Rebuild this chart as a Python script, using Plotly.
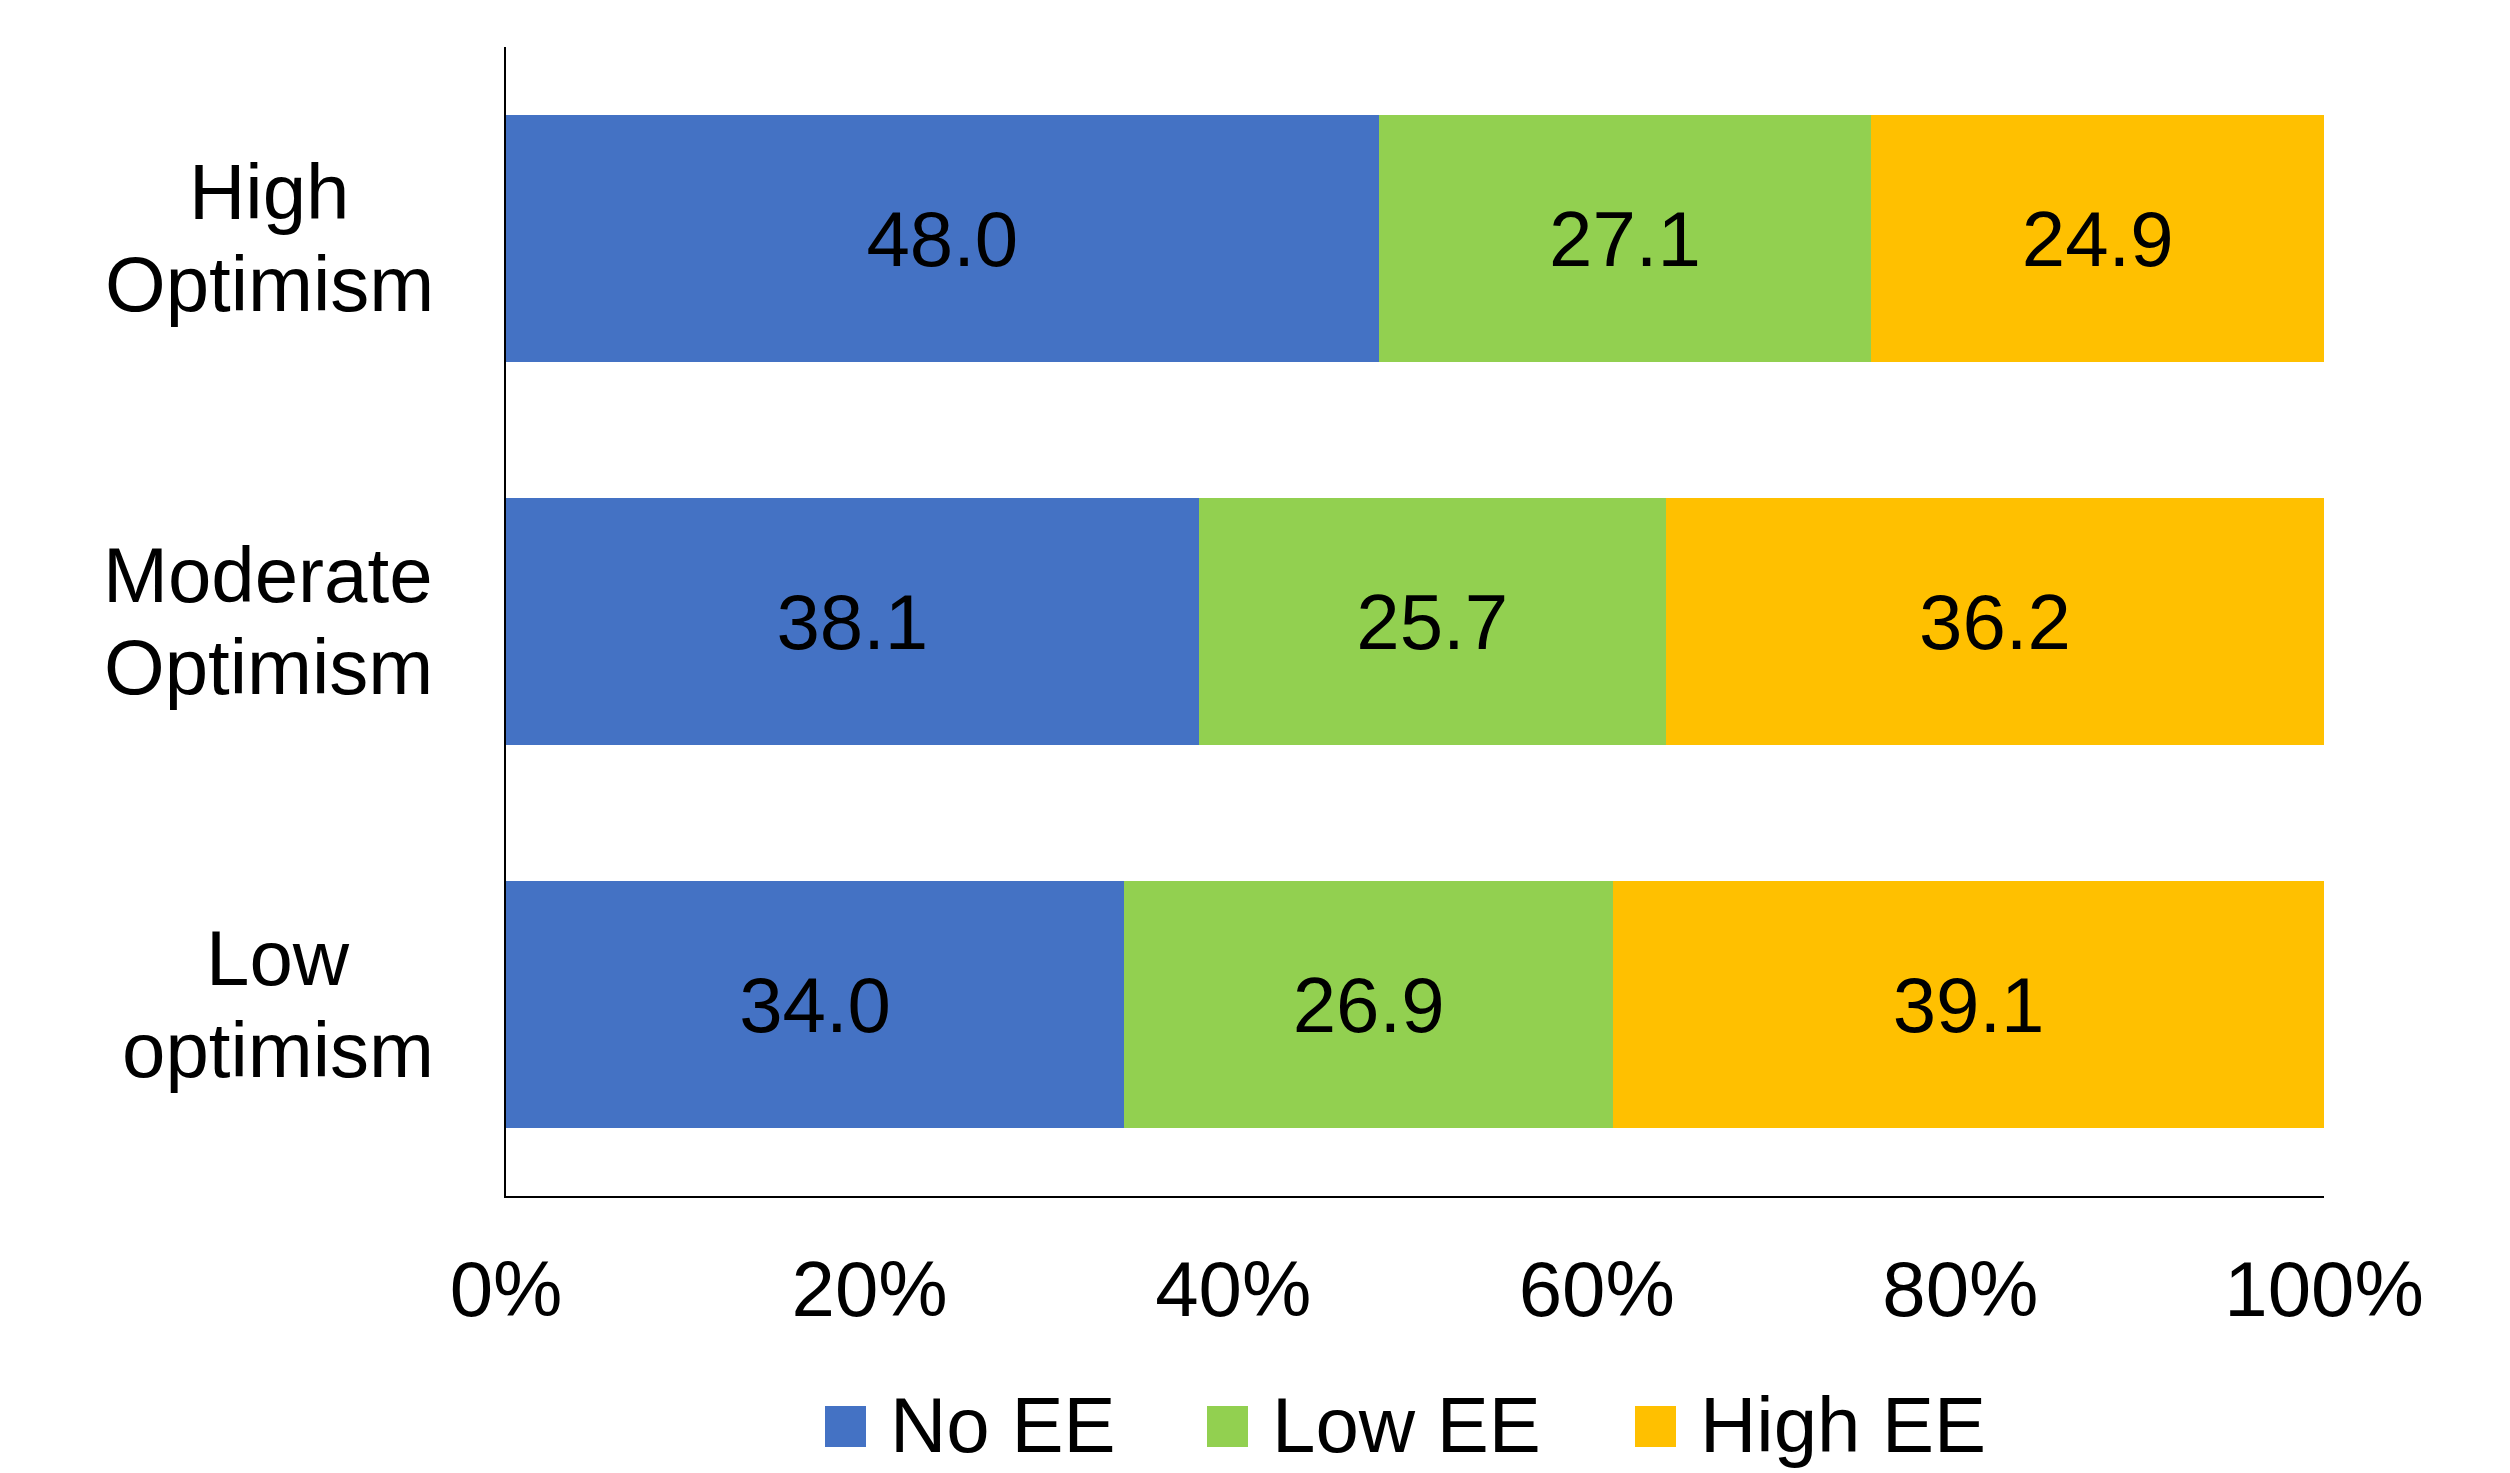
import plotly.graph_objects as go

categories = ["High Optimism", "Moderate Optimism", "Low optimism"]
cat_lines = [["High", "Optimism"], ["Moderate", "Optimism"], ["Low", "optimism"]]
series_names = ["No EE", "Low EE", "High EE"]
no_ee = [48.0, 38.1, 34.0]
low_ee = [27.1, 25.7, 26.9]
high_ee = [24.9, 36.2, 39.1]
tick_vals = [0, 20, 40, 60, 80, 100]
tick_text = ["0%", "20%", "40%", "60%", "80%", "100%"]
colors = ["#4472C4", "#92D050", "#FFC000"]

W, H = 2510, 1473
L, R, T, B = 506, 2324, 47, 1196
FONT = "Liberation Sans, Arial, sans-serif"
FS = 78

def px_x(px):
    return (px - L) / (R - L)

def px_y(py):
    return (B - py) / (B - T)

fig = go.Figure()
for name, vals, col in zip(series_names, [no_ee, low_ee, high_ee], colors):
    fig.add_trace(go.Bar(
        y=categories, x=vals, name=name, orientation="h",
        marker=dict(color=col, line=dict(width=0)),
        text=[f"{v:.1f}" for v in vals], textposition="inside",
        insidetextanchor="middle", textangle=0,
        textfont=dict(family=FONT, size=FS, color="black"),
        showlegend=False, hoverinfo="skip",
    ))

annotations = []
# category labels (two lines, centered over each other, right edge aligned)
label_centers = [269, 268, 278]
for cat, lines, cx in zip(categories, cat_lines, label_centers):
    for i, (ln, ys) in enumerate(zip(lines, [47, -45])):
        annotations.append(dict(
            x=px_x(cx), xref="paper", y=cat, yref="y", yshift=ys,
            text=ln, showarrow=False, xanchor="center", yanchor="middle",
            font=dict(family=FONT, size=FS, color="black"),
        ))

# legend with large square swatches
shapes = []
sw_left = [825, 1207, 1635]
for name, col, sx in zip(series_names, colors, sw_left):
    shapes.append(dict(
        type="rect", xref="paper", yref="paper",
        x0=px_x(sx), x1=px_x(sx + 41), y0=px_y(1447), y1=px_y(1406),
        fillcolor=col, line=dict(width=0),
    ))
    annotations.append(dict(
        x=px_x(sx + 63), xref="paper", y=px_y(1425), yref="paper",
        text=name, showarrow=False, xanchor="left", yanchor="middle",
        font=dict(family=FONT, size=FS, color="black"),
    ))

fig.update_layout(
    barmode="stack", bargap=0.355,
    width=W, height=H,
    margin=dict(l=L, r=W - R, t=T, b=H - B, autoexpand=False),
    paper_bgcolor="white", plot_bgcolor="white",
    font=dict(family=FONT, size=FS, color="black"),
    annotations=annotations, shapes=shapes,
    showlegend=False,
)
fig.update_xaxes(
    range=[0, 100], tickvals=tick_vals, ticktext=tick_text,
    showgrid=False, zeroline=False, showline=True, linecolor="black", linewidth=2,
    ticks="", ticklabelstandoff=24,
    tickfont=dict(family=FONT, size=FS, color="black"),
)
fig.update_yaxes(
    categoryorder="array", categoryarray=categories, autorange="reversed",
    showticklabels=False, showgrid=False, zeroline=False,
    showline=True, linecolor="black", linewidth=1.5, ticks="",
)
fig.write_html("out.html")
